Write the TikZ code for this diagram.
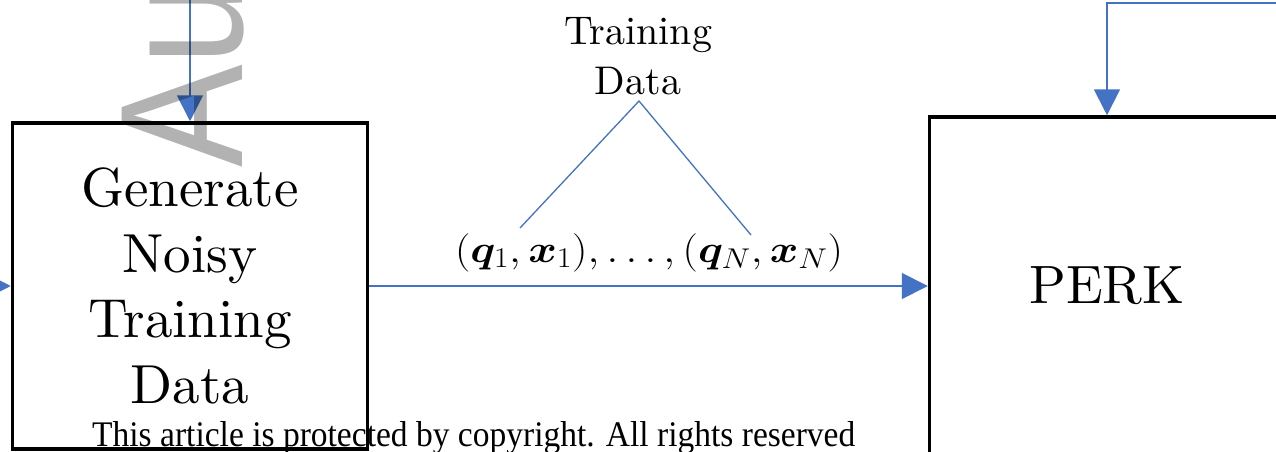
\RequirePackage{fix-cm}
\documentclass[tikz,border=0pt]{standalone}
\usepackage{fontspec}
\usepackage{amsmath,bm}
\usetikzlibrary{arrows.meta}
\newfontfamily\wmfont{Liberation Sans}
\newfontfamily\notefont{Liberation Serif}
\newfontfamily\blockfont{lmroman10-regular.otf}
\definecolor{flowblue}{RGB}{68,114,196}
\DeclareMathSizes{39}{39}{29}{20}
\begin{document}
\begin{tikzpicture}[x=1pt,y=-1pt,
  box/.style={draw=black, line width=3.5pt, minimum width=355pt, inner sep=0, align=center},
  flow/.style={draw=flowblue, line width=1.8pt, -{Triangle[length=26pt,width=26pt]}},
  link/.style={draw=flowblue, line width=1.3pt},
  ]
\useasboundingbox (0,0) rectangle (1276,452);
\clip (0,0) rectangle (1276,452);
\fill[white] (0,0) rectangle (1276,452);

% processing blocks
\node[box, minimum height=326pt, font=\blockfont\fontsize{55}{65.5}\selectfont] (gen) at (190,286)
  {Generate\\Noisy\\Training\\Data};
\node[box, minimum height=338pt, font=\blockfont\fontsize{54}{54}\selectfont] (perk) at (1107,286) {PERK};

% training pairs and their label
\node[font=\fontsize{39}{39}\selectfont, anchor=base, inner sep=0] (pairs) at (649,262)
  {\resizebox{388pt}{!}{\scalebox{1.13}[1]{$(\bm{q}_1,\bm{x}_1),\ldots,(\bm{q}_N,\bm{x}_N)$}}};
\node[align=center, font=\blockfont\fontsize{40}{50}\selectfont, inner sep=0] (tdlabel) at (638,56)
  {Training\\Data};
\coordinate (apex) at (639,101);
\coordinate (q1end) at (520,228);
\coordinate (qNend) at (751,235);
\draw[link] (q1end) -- (apex) -- (qNend);

% flow arrows
\coordinate (genin) at (190,-10);
\draw[flow] (genin) -- (genin |- gen.north);
\coordinate (leftin) at (-40,286);
\draw[flow] (leftin) -- (gen.west);
\draw[flow] (gen.east) -- (perk.west);
\coordinate (perkin) at (1290,3);
\draw[flow] (perkin) -| (perk.north);

% manuscript watermark
\node[rotate=90, anchor=base west, inner sep=0, text=black, text opacity=0.3,
  font=\wmfont\fontsize{175}{175}\selectfont] (wm) at (242,168) {\scalebox{0.88}[1]{Au}};

% copyright line
\node[anchor=base west, inner sep=0] (note) at (92,446)
  {\resizebox{763pt}{25pt}{\notefont This article is protected by copyright. All rights reserved}};
\end{tikzpicture}
\end{document}
